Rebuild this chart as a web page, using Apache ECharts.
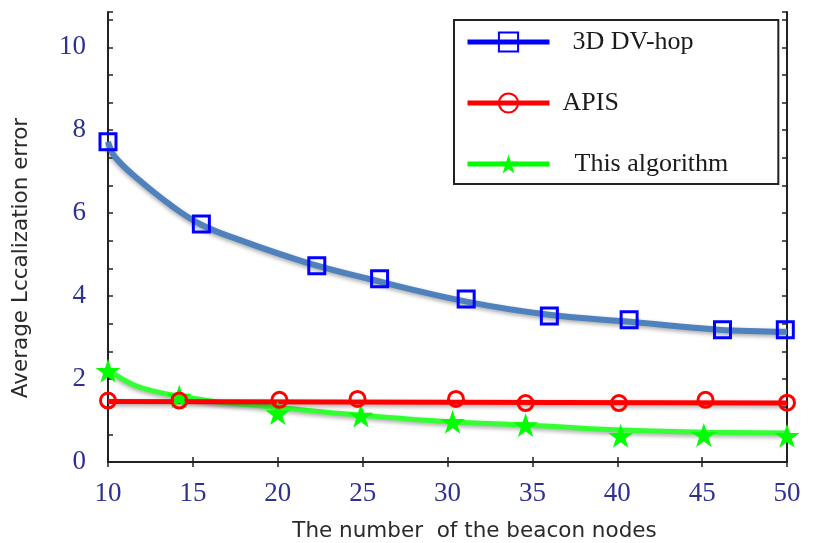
<!DOCTYPE html>
<html>
<head>
<meta charset="utf-8">
<script src="https://cdn.jsdelivr.net/npm/echarts@6/dist/echarts.min.js"></script>
<style>
  html, body { margin: 0; padding: 0; background: #fff; }
  #chart { width: 815px; height: 543px; }
</style>
</head>
<body>
<div id="chart"></div>
<script>
// marker points
var dvhopX = [10, 15.5, 22.3, 26, 31.1, 36, 40.7, 46.2, 49.9];
var dvhopY = [7.72, 5.74, 4.73, 4.42, 3.93, 3.52, 3.43, 3.19, 3.19];
var apisX = [10, 14.2, 20.1, 24.7, 30.5, 34.6, 40.1, 45.2, 50];
var apisY = [1.48, 1.48, 1.50, 1.52, 1.52, 1.42, 1.42, 1.50, 1.43];
var oursX = [10, 14.2, 20.0, 24.9, 30.3, 34.6, 40.2, 45.1, 50];
var oursY = [2.20, 1.58, 1.18, 1.12, 0.97, 0.89, 0.63, 0.65, 0.63];

// fitted curves (drawn separately, markers sit a bit off them)
var dvhopCurveX = [10, 10.4, 11.8, 13.8, 15.5, 17.7, 21.6, 25.5, 31.2, 36, 40.8, 46, 50];
var dvhopCurveY = [7.72, 7.36, 6.81, 6.16, 5.72, 5.36, 4.82, 4.40, 3.86, 3.55, 3.38, 3.19, 3.14];
var apisCurveX = [10, 30, 50];
var apisCurveY = [1.46, 1.44, 1.42];
var oursCurveX = [10, 11.5, 12.9, 14.2, 16.4, 18.4, 20.3, 24.8, 30.1, 34.6, 40.2, 45.1, 50];
var oursCurveY = [2.22, 1.86, 1.69, 1.59, 1.45, 1.38, 1.30, 1.13, 0.97, 0.89, 0.77, 0.72, 0.70];

var seriesNames = ['3D DV-hop', 'APIS', 'This algorithm'];

var starPath = 'path://M10,0 L12.25,6.91 L19.51,6.91 L13.63,11.18 L15.88,18.09 L10,13.82 L4.12,18.09 L6.37,11.18 L0.49,6.91 L7.75,6.91 Z';

function pairs(xs, ys) {
    var out = [];
    for (var i = 0; i < xs.length; i++) {
        out.push([xs[i], ys[i]]);
    }
    return out;
}

var shadow = {
    shadowColor: 'rgba(0,0,0,0.35)',
    shadowBlur: 4,
    shadowOffsetY: 2
};

function curve(xs, ys, color, width) {
    return {
        type: 'line',
        data: pairs(xs, ys),
        smooth: 0.4,
        showSymbol: false,
        silent: true,
        clip: false,
        lineStyle: Object.assign({ color: color, width: width }, shadow)
    };
}

function markers(name, xs, ys, symbol, size, itemStyle) {
    return {
        name: name,
        type: 'line',
        data: pairs(xs, ys),
        symbol: symbol,
        symbolSize: size,
        showAllSymbol: true,
        clip: false,
        lineStyle: { width: 0, opacity: 0 },
        itemStyle: itemStyle
    };
}

var tickFont = { fontFamily: 'Liberation Serif', fontSize: 27, color: '#2e3192' };

var chart = echarts.init(document.getElementById('chart'));

chart.setOption({
    animation: false,
    grid: { left: 108, right: 28, top: 12, bottom: 81, outerBoundsMode: 'none' },
    legend: {
        orient: 'vertical',
        left: 454,
        top: 20,
        padding: [9, 50, 7, 11],
        itemGap: 35,
        itemWidth: 82,
        itemHeight: 24,
        borderColor: '#222',
        borderWidth: 2,
        backgroundColor: '#fff',
        textStyle: { fontFamily: 'Liberation Serif', fontSize: 26, color: '#1a1a1a' },
        data: [
            { name: seriesNames[0], lineStyle: { color: '#0000ff', width: 5, opacity: 1 },
              textStyle: { padding: [0, 0, 0, 18] } },
            { name: seriesNames[1], lineStyle: { color: '#ff0000', width: 5, opacity: 1 },
              textStyle: { padding: [0, 0, 0, 8] } },
            { name: seriesNames[2], lineStyle: { color: '#00ff00', width: 5, opacity: 1 },
              textStyle: { padding: [0, 0, 0, 20] } }
        ]
    },
    xAxis: [{
        type: 'value',
        min: 10,
        max: 50,
        interval: 5,
        name: 'The number  of the beacon nodes',
        nameLocation: 'middle',
        nameGap: 58,
        nameTextStyle: { fontFamily: 'DejaVu Sans', fontSize: 21.5, color: '#2a2a2a', padding: [0, 0, 0, 54] },
        axisLine: { lineStyle: { color: '#222', width: 2 } },
        axisTick: { inside: true, length: 5, lineStyle: { color: '#222', width: 1.5 } },
        axisLabel: Object.assign({ margin: 18 }, tickFont),
        splitLine: { show: false }
    }, {
        type: 'value',
        position: 'top',
        min: 10,
        max: 50,
        interval: 5,
        axisLine: { show: true, lineStyle: { color: '#222', width: 2 } },
        axisTick: { inside: true, length: 5, lineStyle: { color: '#222', width: 1.5 } },
        axisLabel: { show: false },
        splitLine: { show: false }
    }],
    yAxis: [{
        type: 'value',
        min: 0,
        max: 10.85,
        interval: 2,
        name: 'Average Lccalization error',
        nameLocation: 'middle',
        nameRotate: 90,
        nameGap: 76,
        nameTextStyle: { fontFamily: 'DejaVu Sans', fontSize: 21.5, color: '#2a2a2a', padding: [0, 42, 0, 0] },
        axisLine: { show: true, lineStyle: { color: '#222', width: 2 } },
        axisTick: { inside: true, length: 5, lineStyle: { color: '#222', width: 1.5 } },
        minorTick: { show: true, splitNumber: 3, length: 5, lineStyle: { color: '#222', width: 1.5 } },
        axisLabel: Object.assign({ margin: 22, showMaxLabel: false }, tickFont),
        splitLine: { show: false },
        minorSplitLine: { show: false }
    }, {
        type: 'value',
        position: 'right',
        min: 0,
        max: 10.85,
        interval: 2,
        axisLine: { show: true, lineStyle: { color: '#222', width: 2 } },
        axisTick: { inside: true, length: 5, lineStyle: { color: '#222', width: 1.5 } },
        minorTick: { show: true, splitNumber: 3, length: 5, lineStyle: { color: '#222', width: 1.5 } },
        axisLabel: { show: false },
        splitLine: { show: false },
        minorSplitLine: { show: false }
    }],
    series: [
        curve(dvhopCurveX, dvhopCurveY, '#4f81bd', 6),
        curve(oursCurveX, oursCurveY, '#33ff33', 5),
        curve(apisCurveX, apisCurveY, '#ff0000', 5),
        markers(seriesNames[0], dvhopX, dvhopY, 'rect', 16,
            { color: 'rgba(255,255,255,0)', borderColor: '#0000ff', borderWidth: 3 }),
        markers(seriesNames[2], oursX, oursY, starPath, [25, 24],
            { color: '#00ff00', borderColor: '#00ff00', borderWidth: 0 }),
        markers(seriesNames[1], apisX, apisY, 'circle', 15,
            { color: 'rgba(255,255,255,0)', borderColor: '#ff0000', borderWidth: 3 })
    ]
});
</script>
</body>
</html>
